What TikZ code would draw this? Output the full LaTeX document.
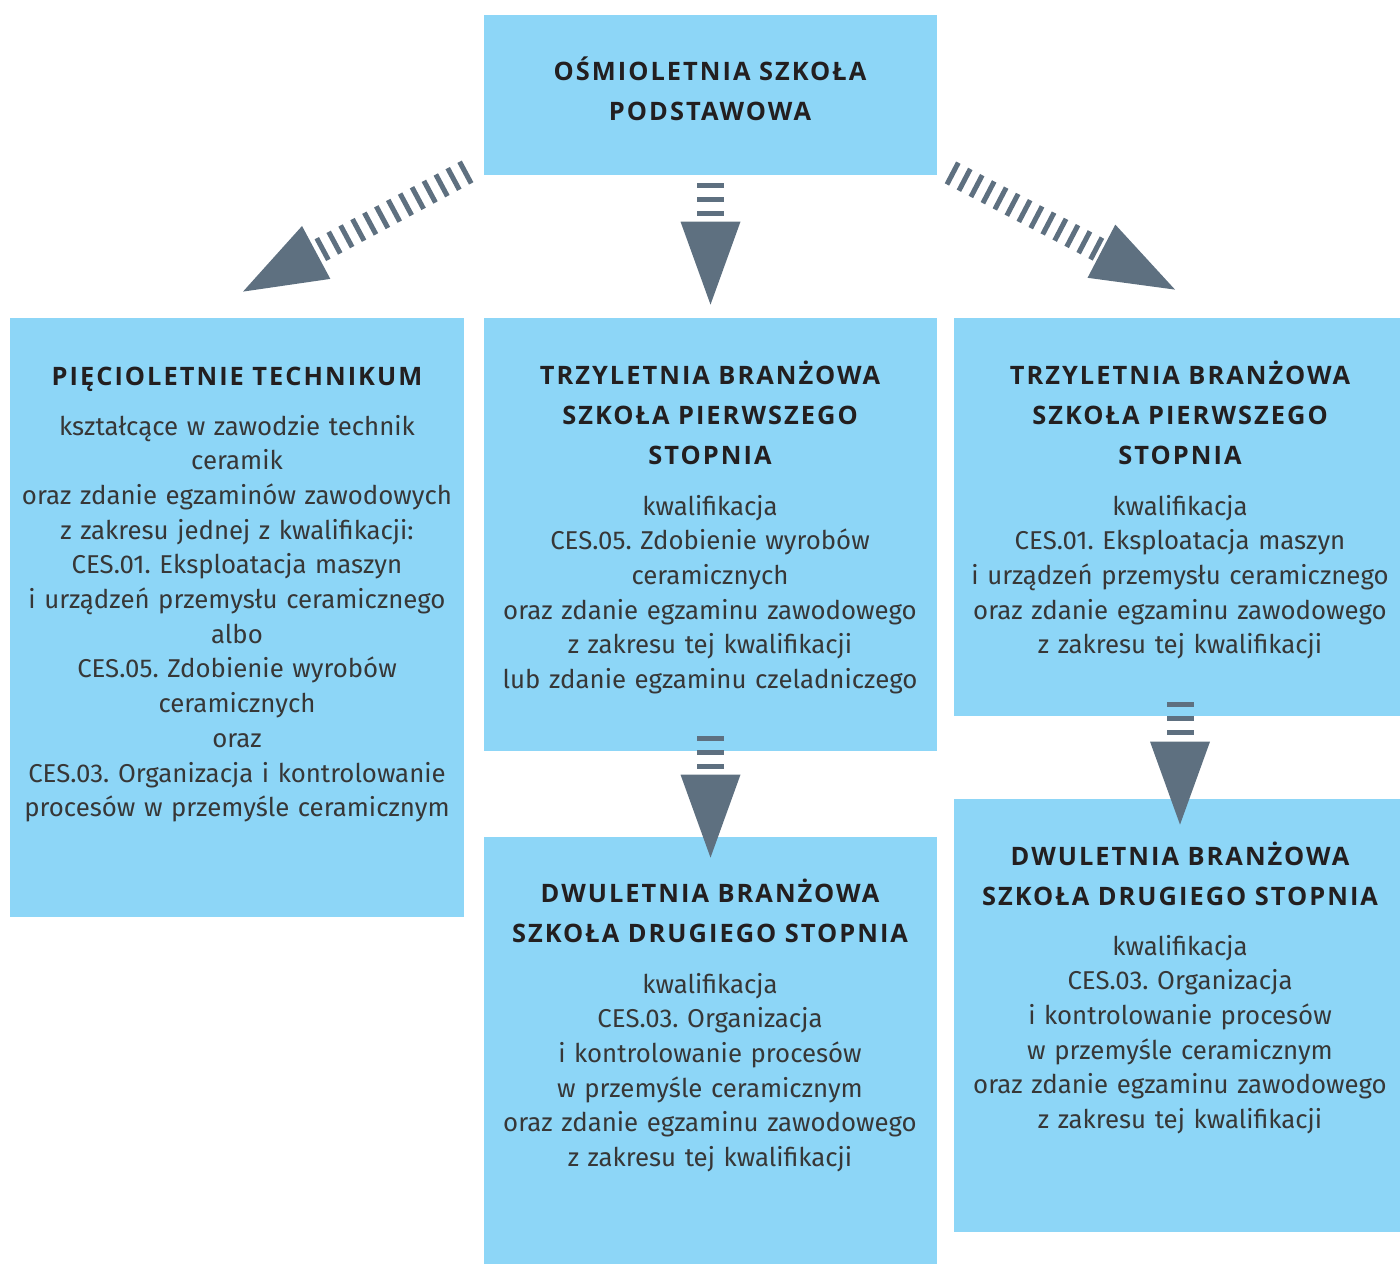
\documentclass[tikz,border=0pt]{standalone}
\usepackage{fontspec}
\setmainfont{Fira Sans}
\newfontfamily\headfont{Open Sans}[LetterSpace=8]
\usepackage{xcolor}
\usetikzlibrary{arrows.meta}
\definecolor{boxblue}{RGB}{141,214,247}
\definecolor{arrowgrey}{RGB}{94,112,128}
\definecolor{headink}{RGB}{35,31,32}
\definecolor{bodyink}{RGB}{55,55,55}
\newcommand\hd{\headfont\bfseries\fontsize{12.7pt}{20pt}\selectfont}
\newcommand\bd{\frenchspacing\fontsize{12.9pt}{17.35pt}\selectfont}
\tikzstyle{box}=[fill=boxblue,inner sep=0pt]
\tikzstyle{head}=[anchor=base,text width=225pt,align=center,inner sep=0pt,font=\hd,text=headink]
\tikzstyle{body}=[anchor=base,text width=225pt,align=center,inner sep=0pt,font=\bd,text=bodyink]
\tikzstyle{tiphead}=[>/.tip={Triangle[length=41.5pt,width=30pt,line width'=0pt]}]
\tikzstyle{down} =[tiphead,->,draw=arrowgrey,line width=13.5pt,dash pattern=on 2.5pt off 4.5pt]
\tikzstyle{slant}=[tiphead,->,draw=arrowgrey,line width=12.3pt,dash pattern=on 2.5pt off 4.25pt]

\begin{document}
\begin{tikzpicture}[x=0.5pt,y=-0.5pt]
	\useasboundingbox (0,0) rectangle (1400,1264);
	% boxes
	\node[box,minimum width=226.5pt,minimum height=80pt]    (top)  at (710.5,95)    {};
	\node[box,minimum width=227pt,minimum height=299.5pt]   (tech) at (237,617.5)   {};
	\node[box,minimum width=226.5pt,minimum height=216.5pt] (bs1)  at (710.5,534.5) {};
	\node[box,minimum width=223pt,minimum height=199pt]     (bs1r) at (1177,517)    {};
	\node[box,minimum width=226.5pt,minimum height=213.5pt] (bs2)  at (710.5,1050.5){};
	\node[box,minimum width=223pt,minimum height=216.5pt]   (bs2r) at (1177,1015.5) {};
	% texts
	\node[head] (topH) at (710,80) {OŚMIOLETNIA SZKOŁA\\PODSTAWOWA};
	\node[head] (techH) at (237,385) {PIĘCIOLETNIE TECHNIKUM};
	\node[body] (techB) at (237,435) {kształcące w zawodzie technik\\ceramik\\oraz zdanie egzaminów zawodowych\\z zakresu jednej z kwalifikacji:\\CES.01. Eksploatacja maszyn\\i urządzeń przemysłu ceramicznego\\albo\\CES.05. Zdobienie wyrobów\\ceramicznych\\oraz\\CES.03. Organizacja i kontrolowanie\\procesów w przemyśle ceramicznym};
	\node[head] (bs1H) at (710,384) {TRZYLETNIA BRANŻOWA\\SZKOŁA PIERWSZEGO\\STOPNIA};
	\node[body] (bs1B) at (710,515) {kwalifikacja\\CES.05. Zdobienie wyrobów\\ceramicznych\\oraz zdanie egzaminu zawodowego\\z zakresu tej kwalifikacji\\lub zdanie egzaminu czeladniczego};
	\node[head] (bs1rH) at (1180,384) {TRZYLETNIA BRANŻOWA\\SZKOŁA PIERWSZEGO\\STOPNIA};
	\node[body] (bs1rB) at (1180,515) {kwalifikacja\\CES.01. Eksploatacja maszyn\\i urządzeń przemysłu ceramicznego\\oraz zdanie egzaminu zawodowego\\z zakresu tej kwalifikacji};
	\node[head] (bs2H) at (710,902) {DWULETNIA BRANŻOWA\\SZKOŁA DRUGIEGO STOPNIA};
	\node[body] (bs2B) at (710,993) {kwalifikacja\\CES.03. Organizacja\\i kontrolowanie procesów\\w przemyśle ceramicznym\\oraz zdanie egzaminu zawodowego\\z zakresu tej kwalifikacji};
	\node[head] (bs2rH) at (1180,865) {DWULETNIA BRANŻOWA\\SZKOŁA DRUGIEGO STOPNIA};
	\node[body] (bs2rB) at (1180,955) {kwalifikacja\\CES.03. Organizacja\\i kontrolowanie procesów\\w przemyśle ceramicznym\\oraz zdanie egzaminu zawodowego\\z zakresu tej kwalifikacji};
	% arrows
	\coordinate (lA) at ([shift={(-16,-4)}]top.south west);
	\coordinate (lB) at ([shift={(6,-26)}]tech.north);
	\coordinate (rA) at ([shift={(13,-3)}]top.south east);
	\coordinate (rB) at ([shift={(-2,-28)}]bs1r.north);
	\draw[slant] (lA) -- (lB);
	\draw[slant] (rA) -- (rB);
	\draw[down] ([yshift=-4pt]top.south) -- ([yshift=6.5pt]bs1.north);
	\draw[down] ([yshift=7.5pt]bs1.south) -- ([yshift=-10.5pt]bs2.north);
	\draw[down] ([shift={(3,-14)}]bs1r.south) -- ([shift={(3,26)}]bs2r.north);
\end{tikzpicture}
\end{document}
